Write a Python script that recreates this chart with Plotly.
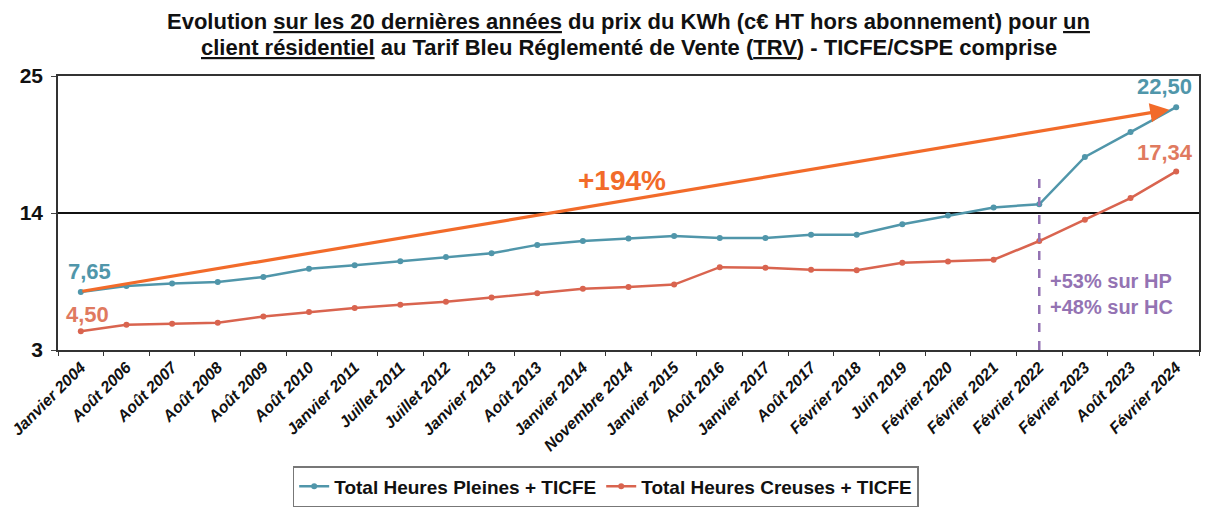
import plotly.graph_objects as go

categories = ["Janvier 2004", "Août 2006", "Août 2007", "Août 2008", "Août 2009", "Août 2010",
              "Janvier 2011", "Juillet 2011", "Juillet 2012", "Janvier 2013", "Août 2013",
              "Janvier 2014", "Novembre 2014", "Janvier 2015", "Août 2016", "Janvier 2017",
              "Août 2017", "Février 2018", "Juin 2019", "Février 2020", "Février 2021",
              "Février 2022", "Février 2023", "Août 2023", "Février 2024"]

heures_pleines = [7.65, 8.14, 8.33, 8.46, 8.86, 9.52, 9.81, 10.12, 10.47, 10.76, 11.44, 11.76,
                  11.95, 12.15, 12.0, 12.0, 12.25, 12.25, 13.1, 13.8, 14.45, 14.7, 18.5, 20.5, 22.50]

heures_creuses = [4.50, 5.03, 5.11, 5.19, 5.69, 6.06, 6.38, 6.64, 6.88, 7.22, 7.56, 7.91,
                  8.05, 8.25, 9.65, 9.6, 9.45, 9.4, 10.0, 10.1, 10.25, 11.75, 13.45, 15.2, 17.34]

y_ticks = [3, 14, 25]

title_lines = [
    "<b>Evolution <u>sur les 20 dernières années</u> du prix du KWh (c€ HT hors abonnement) pour <u>un</u></b>",
    "<b><u>client résidentiel</u> au Tarif Bleu Réglementé de Vente (<u>TRV</u>) - TICFE/CSPE comprise</b>",
]

TEAL = "#5096aa"
RED = "#d9644f"
LABEL_RED = "#e07a5f"
ORANGE = "#f26b2a"
PURPLE = "#9473b3"
FONT = "Liberation Sans, Arial, sans-serif"

MARGIN_T, MARGIN_B = 76, 160
PLOT_H = 510 - MARGIN_T - MARGIN_B

fig = go.Figure()
fig.add_trace(go.Scatter(x=categories, y=heures_pleines, mode="lines+markers",
                         name="Total Heures Pleines + TICFE",
                         line=dict(color=TEAL, width=2.5), marker=dict(size=6, color=TEAL)))
fig.add_trace(go.Scatter(x=categories, y=heures_creuses, mode="lines+markers",
                         name="Total Heures Creuses + TICFE",
                         line=dict(color=RED, width=2.5), marker=dict(size=6, color=RED)))

# title (two centred lines)
for line_text, center_px in zip(title_lines, [22, 48]):
    fig.add_annotation(x=0.5, xref="paper", y=1 + (MARGIN_T - center_px) / PLOT_H, yref="paper",
                       xanchor="center", yanchor="middle", showarrow=False,
                       text=line_text, font=dict(family=FONT, size=22, color="#111111"))

# orange growth arrow
fig.add_annotation(x=23.85, y=22.3, ax=0, ay=heures_pleines[0] + 0.05,
                   xref="x", yref="y", axref="x", ayref="y",
                   showarrow=True, arrowhead=2, arrowsize=1.2, arrowwidth=3.2,
                   arrowcolor=ORANGE, text="")
fig.add_annotation(x=11.85, y=16.6, xref="x", yref="y", showarrow=False,
                   text="<b>+194%</b>", font=dict(family=FONT, size=28, color=ORANGE))

# value labels
fig.add_annotation(x=0.2, y=9.3, xref="x", yref="y", showarrow=False,
                   text="<b>7,65</b>", font=dict(family=FONT, size=22, color=TEAL))
fig.add_annotation(x=0.15, y=5.85, xref="x", yref="y", showarrow=False,
                   text="<b>4,50</b>", font=dict(family=FONT, size=22, color=LABEL_RED))
fig.add_annotation(x=23.75, y=24.15, xref="x", yref="y", showarrow=False,
                   text="<b>22,50</b>", font=dict(family=FONT, size=22, color=TEAL))
fig.add_annotation(x=23.75, y=18.85, xref="x", yref="y", showarrow=False,
                   text="<b>17,34</b>", font=dict(family=FONT, size=22, color=LABEL_RED))

# purple dashed marker at Février 2022
fig.add_shape(type="line", xref="x", yref="y", x0=21, x1=21, y0=3, y1=17.4,
              line=dict(color=PURPLE, width=2.5, dash="dash"))
fig.add_annotation(x=21.2, y=7.5, xref="x", yref="y", showarrow=False, xanchor="left",
                   align="left",
                   text="<b>+53% sur HP<br>+48% sur HC</b>",
                   font=dict(family=FONT, size=20, color=PURPLE))

fig.update_layout(
    width=1209, height=510,
    margin=dict(l=58, r=10, t=MARGIN_T, b=MARGIN_B, autoexpand=False),
    paper_bgcolor="white", plot_bgcolor="white",
    font=dict(family=FONT, color="#111111"),
    showlegend=True,
    legend=dict(orientation="h", x=0.48, xanchor="center",
                y=3 / 510, yref="container", yanchor="bottom",
                bordercolor="#777777", borderwidth=1.5,
                font=dict(family=FONT, size=19, color="#111111", weight="bold")),
)

fig.update_xaxes(type="category", range=[-0.5, 24.5], tickangle=-45,
                 tickson="boundaries", ticks="outside", ticklen=4, tickcolor="#333333",
                 showline=True, linecolor="#333333", linewidth=1.5, mirror=True,
                 showgrid=False,
                 tickfont=dict(family=FONT, size=16, color="#111111", weight="bold", style="italic"))
fig.update_yaxes(range=[3, 25], tickvals=y_ticks, ticktext=[str(v) for v in y_ticks],
                 showgrid=True, gridcolor="#111111", gridwidth=1.5,
                 showline=True, linecolor="#333333", linewidth=1.5, mirror=True,
                 ticks="outside", ticklen=5, zeroline=False, ticklabelstandoff=4,
                 tickfont=dict(family=FONT, size=21, color="#111111", weight="bold"))

fig.write_html("out.html", config={"displayModeBar": False},
               post_script="document.body.style.margin='0';document.body.style.padding='0';")
